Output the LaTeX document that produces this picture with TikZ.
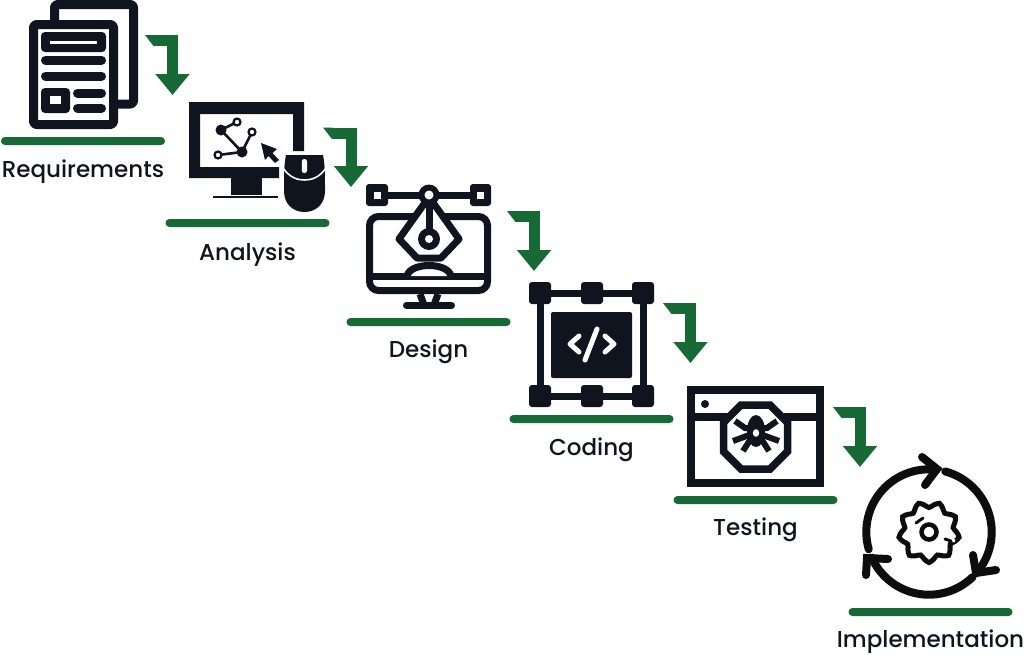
\documentclass[tikz,border=0pt]{standalone}
\usepackage{fontspec}
\setmainfont{Poppins}[UprightFont=* Medium]
\usetikzlibrary{arrows.meta, positioning}
\definecolor{ink}{HTML}{10141F}
\definecolor{leaf}{HTML}{176936}

% connector with the slanted tail
\newcommand{\stepflow}[2]{%
    \draw[flow] (#1) -| (#2);
    \fill[leaf] (#1) ++(-9,-5.5) -- ++(9.5,0) -- ++(0,11) -- ++(-1,0) -- cycle;
}

\begin{document}
\begin{tikzpicture}[
    x=1pt, y=-1pt,
    bar/.style={
        fill=leaf,
        rounded corners=3.9pt,
        minimum width=164pt,
        minimum height=8pt,
        inner sep=0pt
    },
    steplabel/.style={
        font=\fontsize{23}{24}\selectfont,
        text=ink,
        inner sep=0pt,
        text height=16pt,
        text depth=5pt
    },
    flow/.style={
        -{Triangle[length=21pt,width=33pt]},
        leaf,
        line width=11pt
    },
    ink7/.style={draw=ink, line width=7pt, line join=round},
    ink9/.style={draw=ink, line width=9pt, line join=round, rounded corners=3pt},
    stub/.style={draw=ink, line width=9pt, line cap=round},
    black8/.style={draw=black!95, line width=8pt, line cap=round, line join=miter},
    bugleg/.style={draw=ink, line width=6pt, line join=miter}
]
\useasboundingbox (0,0) rectangle (1024,654);

% bars
\node[bar] (reqbar) at (83,141) {};
\node[bar] (anabar) at (247.5,223) {};
\node[bar] (desbar) at (428.5,322) {};
\node[bar] (codbar) at (591.5,419) {};
\node[bar] (tesbar) at (755.5,500) {};
\node[bar] (impbar) at (930.5,612) {};

% labels
\node[steplabel, below=16pt of reqbar] (reqlabel) {Requirements};
\node[steplabel, below=17pt of anabar] (analabel) {Analysis};
\node[steplabel, below=15pt of desbar] (deslabel) {Design};
\node[steplabel, below=16pt of codbar] (codlabel) {Coding};
\node[steplabel, below=15pt of tesbar] (teslabel) {Testing};
\node[steplabel, below=15pt of impbar] (implabel) {Implementation};

% requirements icon
\draw[ink9] (54.5,24) -- (54.5,4.5) -- (133.5,4.5) -- (133.5,104) -- (116,104);
\draw[ink9] (33.5,24.5) rectangle (113.5,124.5);
\fill[ink, rounded corners=4pt] (41,32) rectangle (106,52);
\fill[white] (50,41) rectangle (97,44);
\draw[stub] (45.5,60) -- (101.5,60);
\draw[stub] (45.5,76) -- (101.5,76);
\fill[ink, rounded corners=4pt] (41,88) rectangle (70,113);
\fill[white] (50,96) rectangle (61,104);
\draw[stub] (77.5,93) -- (101.5,93);
\draw[stub] (77.5,108) -- (101.5,108);

% analysis icon
\fill[ink] (189,102) -- (304,102) -- (304,151) -- (293,151) -- (293,114) -- (200,114)
    -- (200,167) -- (279,167) -- (279,178) -- (189,178) -- cycle;
\fill[ink] (231,178) rectangle (262,194.5);
\fill[ink] (213,195.5) rectangle (278,198);
\draw[ink, line width=2.6pt] (221,130) -- (237,122) (221,130) -- (242,152) -- (252,132) (242,152) -- (218,155);
\fill[ink] (221,130) circle (5.5) (242,152) circle (5.5);
\draw[ink, fill=white, line width=2.2pt] (237,122) circle (3.5) (252,132) circle (3.5) (218,155) circle (3.5);
\fill[ink] (261,143) -- (277,149) -- (272.5,153) -- (279,160) -- (275,163) -- (268.5,156) -- (265,160) -- cycle;
\fill[ink] (286,155) -- (323,155) .. controls (325,165) and (325,175) .. (325,191)
    .. controls (325,204) and (316,212) .. (304.5,212)
    .. controls (293,212) and (284,204) .. (284,191)
    .. controls (284,175) and (284,165) .. (286,155) -- cycle;
\draw[white, line width=1.6pt] (283,168) .. controls (290,178) and (298,180) .. (304.5,180) .. controls (311,180) and (319,178) .. (326,168);
\fill[white, rounded corners=2.4pt] (301.8,159) rectangle (307,173);

% design icon
\draw[ink7, rounded corners=9pt] (369.5,216.5) rectangle (487.5,290.5);
\draw[ink7] (369.5,276) -- (487.5,276);
\draw[ink7] (420,294) -- (424,305) (438,294) -- (434,305);
\draw[ink7, line cap=round] (406.5,305.5) -- (451.5,305.5);
\draw[ink7] (377,195) -- (480,195);
\fill[ink, rounded corners=3pt] (366,184) rectangle (388,206);
\fill[white] (374,192) rectangle (381,199);
\fill[ink, rounded corners=3pt] (470,184) rectangle (491,206);
\fill[white] (477,192) rectangle (484,199);
\fill[white] (407,276) .. controls (410,262) and (448,262) .. (451,276) -- cycle;
\draw[ink7] (407,276) .. controls (410,262) and (448,262) .. (451,276);
\draw[ink7, fill=white] (429,197) -- (459,239) -- (441,258) -- (417,258) -- (399,239) -- cycle;
\draw[ink7] (429,200) -- (429,235);
\fill[ink] (429,195) circle (10.5) (429,239) circle (11);
\fill[white] (429,195) circle (4.5) (429,239) circle (4);

% coding icon
\draw[ink7] (540,293) rectangle (643,396);
\foreach \cx in {540,592,643} {
    \foreach \cy in {293,396} {
        \fill[ink, rounded corners=3pt] (\cx-11,\cy-11) rectangle (\cx+11,\cy+11);
    }
}
\fill[ink, rounded corners=2pt] (551,312) rectangle (632,378);
\draw[white, line width=5pt, line cap=round, line join=round]
    (579,336) -- (570,344) -- (579,352)
    (605,336) -- (614,344) -- (605,352)
    (597,329) -- (585,360);

% testing icon
\draw[draw=ink, line width=8pt] (691,390) rectangle (820,483);
\draw[draw=ink, line width=7.5pt] (691,417) -- (820,417);
\fill[ink] (705,404) circle (4);
\draw[draw=ink, line width=7.5pt, fill=white] (741,405) -- (770,405) -- (787.5,422.5) -- (787.5,451.5) -- (770,469) -- (741,469) -- (723.5,451.5) -- (723.5,422.5) -- cycle;
\fill[ink] (756,431) ellipse (9 and 16);
\draw[bugleg] (756,428) -- (745,428) -- (735,421) (756,428) -- (767,428) -- (777,421);
\draw[bugleg] (752,434) -- (733,441) (760,434) -- (779,441);
\draw[bugleg] (752,437) -- (743,451) (760,437) -- (769,451);
\fill[white] (756,433) ellipse (3.2 and 3.8);

% implementation icon
\draw[black8] (929,532) ++(164:62.7) arc[start angle=164, end angle=277, radius=62.7];
\draw[black8] (929,532) ++(285:62.7) arc[start angle=285, end angle=400, radius=62.7];
\draw[black8] (929,532) ++(46:62.7) arc[start angle=46, end angle=156, radius=62.7];
\draw[black8] (922,457) -- (937,469) -- (925,485);
\draw[black8] (973,555) -- (976,573) -- (996,570);
\draw[black8] (888,559) -- (867,558) -- (866,575);
\draw[draw=black!95, line width=5pt, smooth cycle]
    plot[domain=0:350, samples=36] ({929+(27.5+3*sin(9*\x))*cos(\x)}, {532+(27.5+3*sin(9*\x))*sin(\x)});
\draw[draw=black!95, line width=4.5pt] (929,532) circle (7.5);
\draw[draw=black!95, line width=3pt, line cap=round] (916,523) -- (923,518);
\draw[white, line width=3pt] (943,537) -- (955,541);
\draw[draw=black!95, line width=3pt, line cap=round] (945,539) -- (951,541);

% connectors
\coordinate (reqout) at (154,40.5);
\coordinate (anain) at (172.5,95);
\coordinate (anaout) at (332,133);
\coordinate (desin) at (351,187);
\coordinate (desout) at (516,216.5);
\coordinate (codin) at (534,271);
\coordinate (codout) at (672,308.5);
\coordinate (tesin) at (690.5,363);
\coordinate (tesout) at (842,412.5);
\coordinate (impin) at (860,467);
\stepflow{reqout}{anain}
\stepflow{anaout}{desin}
\stepflow{desout}{codin}
\stepflow{codout}{tesin}
\stepflow{tesout}{impin}

\end{tikzpicture}
\end{document}
